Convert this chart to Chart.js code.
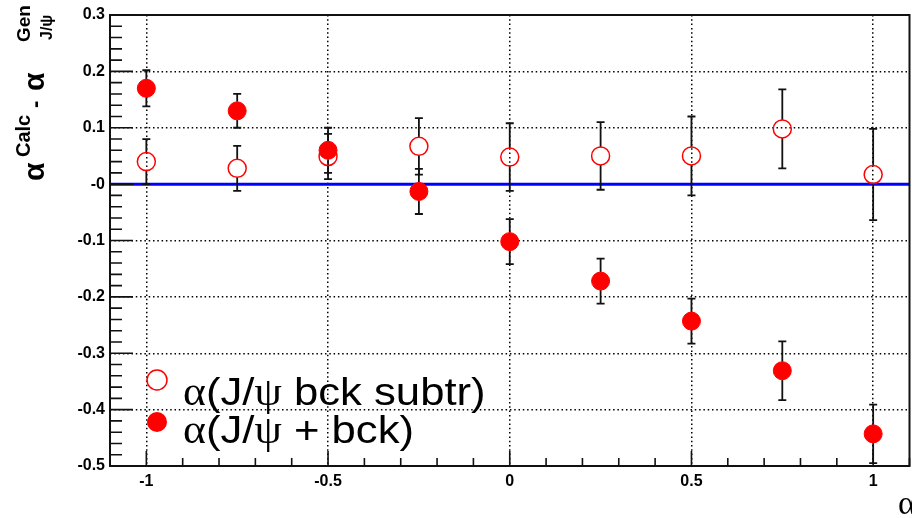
<!DOCTYPE html>
<html>
<head>
<meta charset="utf-8">
<script src="https://cdn.jsdelivr.net/npm/chart.js@4"></script>
<style>
  html, body { margin: 0; padding: 0; background: #fff; overflow: hidden; }
  #plot { display: block; }
</style>
</head>
<body>
<canvas id="plot" width="920" height="518"></canvas>
<script>
// generated alpha values
const xVals = [-1, -0.75, -0.5, -0.25, 0, 0.25, 0.5, 0.75, 1];

// alpha(J/psi bck subtr) - open markers
const subtrVals = [0.04, 0.028, 0.049, 0.067, 0.048, 0.05, 0.05, 0.098, 0.017];
const subtrErr = [0.04, 0.04, 0.04, 0.05, 0.06, 0.06, 0.07, 0.07, 0.081];

// alpha(J/psi + bck) - filled markers
const bckVals = [0.17, 0.13, 0.06, -0.013, -0.102, -0.172, -0.243, -0.331, -0.443];
const bckErr = [0.032, 0.03, 0.04, 0.04, 0.04, 0.04, 0.04, 0.052, 0.052];

const yMajor = [-0.5, -0.4, -0.3, -0.2, -0.1, 0, 0.1, 0.2, 0.3];
const yTickLabels = ['-0.5', '-0.4', '-0.3', '-0.2', '-0.1', '-0', '0.1', '0.2', '0.3'];
const xMajor = [-1, -0.5, 0, 0.5, 1];
const xTickLabels = ['-1', '-0.5', '0', '0.5', '1'];

const majorIndex = (list, v) => list.findIndex(m => Math.abs(m - v) < 1e-6);
const toPoints = (vals) => xVals.map((x, i) => ({x: x, y: vals[i]}));

// draw a list of text pieces one after another
const drawRuns = (ctx, runs, x, y) => {
    let cx = x;
    runs.forEach(r => {
        ctx.font = r.font;
        ctx.fillText(r.t, cx, y + (r.dy || 0));
        cx += ctx.measureText(r.t).width;
    });
};

const framePlugin = {
    id: 'frame',
    beforeDatasetsDraw(chart) {
        const {ctx, chartArea: a, scales: {x, y}} = chart;
        ctx.save();

        // blue reference line at zero
        const y0 = y.getPixelForValue(0);
        ctx.strokeStyle = '#0000ff';
        ctx.lineWidth = 3;
        ctx.beginPath();
        ctx.moveTo(a.left, y0);
        ctx.lineTo(a.right, y0);
        ctx.stroke();

        // frame
        ctx.strokeStyle = '#111';
        ctx.lineWidth = 2;
        ctx.strokeRect(a.left, a.top, a.right - a.left, a.bottom - a.top);

        // inward tick marks
        ctx.lineWidth = 1.6;
        ctx.beginPath();
        y.ticks.forEach(t => {
            const py = y.getPixelForValue(t.value);
            const len = majorIndex(yMajor, t.value) >= 0 ? 23 : 12;
            ctx.moveTo(a.left, py);
            ctx.lineTo(a.left + len, py);
        });
        x.ticks.forEach(t => {
            const px = x.getPixelForValue(t.value);
            const len = majorIndex(xMajor, t.value) >= 0 ? 15 : 8;
            ctx.moveTo(px, a.bottom);
            ctx.lineTo(px, a.bottom - len);
        });
        ctx.stroke();

        // error bars, kept outside the marker
        ctx.strokeStyle = '#111';
        ctx.lineWidth = 1.8;
        chart.data.datasets.forEach((ds, i) => {
            const meta = chart.getDatasetMeta(i);
            meta.data.forEach((el, j) => {
                const v = ds.data[j].y;
                const e = ds.errors[j];
                const top = y.getPixelForValue(v + e);
                const bot = y.getPixelForValue(v - e);
                const r = ds.pointRadius;
                ctx.beginPath();
                if (top < el.y - r) {
                    ctx.moveTo(el.x, top);
                    ctx.lineTo(el.x, el.y - r);
                }
                if (bot > el.y + r) {
                    ctx.moveTo(el.x, el.y + r);
                    ctx.lineTo(el.x, bot);
                }
                ctx.moveTo(el.x - 4, top);
                ctx.lineTo(el.x + 4, top);
                ctx.moveTo(el.x - 4, bot);
                ctx.lineTo(el.x + 4, bot);
                ctx.stroke();
            });
        });
        ctx.restore();
    },
    afterDraw(chart) {
        const {ctx, chartArea: a} = chart;
        ctx.save();
        ctx.fillStyle = '#000';
        ctx.textBaseline = 'alphabetic';

        // legend
        const serif = '39px "Liberation Serif"';
        const sans = '39px "Liberation Sans"';
        ctx.beginPath();
        ctx.arc(a.left + 47, 380, 10, 0, Math.PI * 2);
        ctx.strokeStyle = '#ff0000';
        ctx.lineWidth = 1.5;
        ctx.stroke();
        ctx.beginPath();
        ctx.arc(a.left + 47, 422, 10, 0, Math.PI * 2);
        ctx.fillStyle = '#ff0000';
        ctx.fill();
        ctx.fillStyle = '#000';
        ctx.save();
        ctx.translate(a.left + 73, 0);
        ctx.scale(1.12, 1);
        drawRuns(ctx, [
            {t: 'α', font: serif}, {t: '(J/', font: sans}, {t: 'ψ', font: serif}, {t: ' bck subtr)', font: sans}
        ], 0, 405);
        drawRuns(ctx, [
            {t: 'α', font: serif}, {t: '(J/', font: sans}, {t: 'ψ', font: serif}, {t: ' + bck)', font: sans}
        ], 0, 443);
        ctx.restore();

        // x axis title
        ctx.font = '34px "Liberation Serif"';
        ctx.fillText('α', 898, 514);

        // y axis title, rotated
        ctx.translate(44, 181);
        ctx.rotate(-Math.PI / 2);
        ctx.font = 'bold 30px "Liberation Sans"';
        ctx.fillText('α', 0, 0);
        ctx.font = 'bold 20px "Liberation Sans"';
        ctx.fillText('Calc', 24, -14);
        ctx.font = 'bold 22px "Liberation Sans"';
        ctx.fillText('-', 73, -2);
        ctx.font = 'bold 30px "Liberation Sans"';
        ctx.fillText('α', 90, 0);
        ctx.font = 'bold 19px "Liberation Sans"';
        ctx.fillText('Gen', 139, -14);
        ctx.font = 'bold 16px "Liberation Sans"';
        ctx.fillText('J/ψ', 141, 8);
        ctx.restore();
    }
};

const gridColor = (list) => (c) => (c.tick && majorIndex(list, c.tick.value) >= 0) ? '#000' : 'rgba(0,0,0,0)';
const tickFont = {family: '"Liberation Sans"', size: 16, weight: 'bold'};

new Chart(document.getElementById('plot').getContext('2d'), {
    type: 'scatter',
    data: {
        datasets: [{
            label: 'α(J/ψ + bck)',
            data: toPoints(bckVals),
            errors: bckErr,
            pointStyle: 'circle',
            pointRadius: 9,
            pointBackgroundColor: '#ff0000',
            pointBorderColor: '#ff0000',
            pointBorderWidth: 1,
            order: 0
        }, {
            label: 'α(J/ψ bck subtr)',
            data: toPoints(subtrVals),
            errors: subtrErr,
            pointStyle: 'circle',
            pointRadius: 9,
            pointBackgroundColor: 'rgba(0,0,0,0)',
            pointBorderColor: '#ff0000',
            pointBorderWidth: 1.5,
            order: 1
        }]
    },
    options: {
        responsive: false,
        animation: false,
        layout: {padding: {top: 15, right: 4, left: 0, bottom: 0}},
        plugins: {legend: {display: false}, tooltip: {enabled: false}},
        scales: {
            x: {
                type: 'linear',
                min: -1.1,
                max: 1.1,
                afterFit: (s) => { s.height = 52; },
                grid: {color: gridColor(xMajor), lineWidth: 1.5, drawTicks: false},
                border: {display: false, dash: [1.5, 2.8]},
                ticks: {
                    stepSize: 0.1,
                    autoSkip: false,
                    maxRotation: 0,
                    padding: 6,
                    color: '#000',
                    font: tickFont,
                    callback: (v) => {
                        const i = majorIndex(xMajor, v);
                        return i >= 0 ? xTickLabels[i] : '';
                    }
                }
            },
            y: {
                type: 'linear',
                min: -0.5,
                max: 0.3,
                afterFit: (s) => { s.width = 110; },
                grid: {color: gridColor(yMajor), lineWidth: 1.5, drawTicks: false},
                border: {display: false, dash: [1.5, 2.8]},
                ticks: {
                    stepSize: 0.02,
                    autoSkip: false,
                    padding: 5,
                    color: '#000',
                    font: tickFont,
                    callback: (v) => {
                        const i = majorIndex(yMajor, v);
                        return i >= 0 ? yTickLabels[i] : '';
                    }
                }
            }
        }
    },
    plugins: [framePlugin]
});
</script>
</body>
</html>
